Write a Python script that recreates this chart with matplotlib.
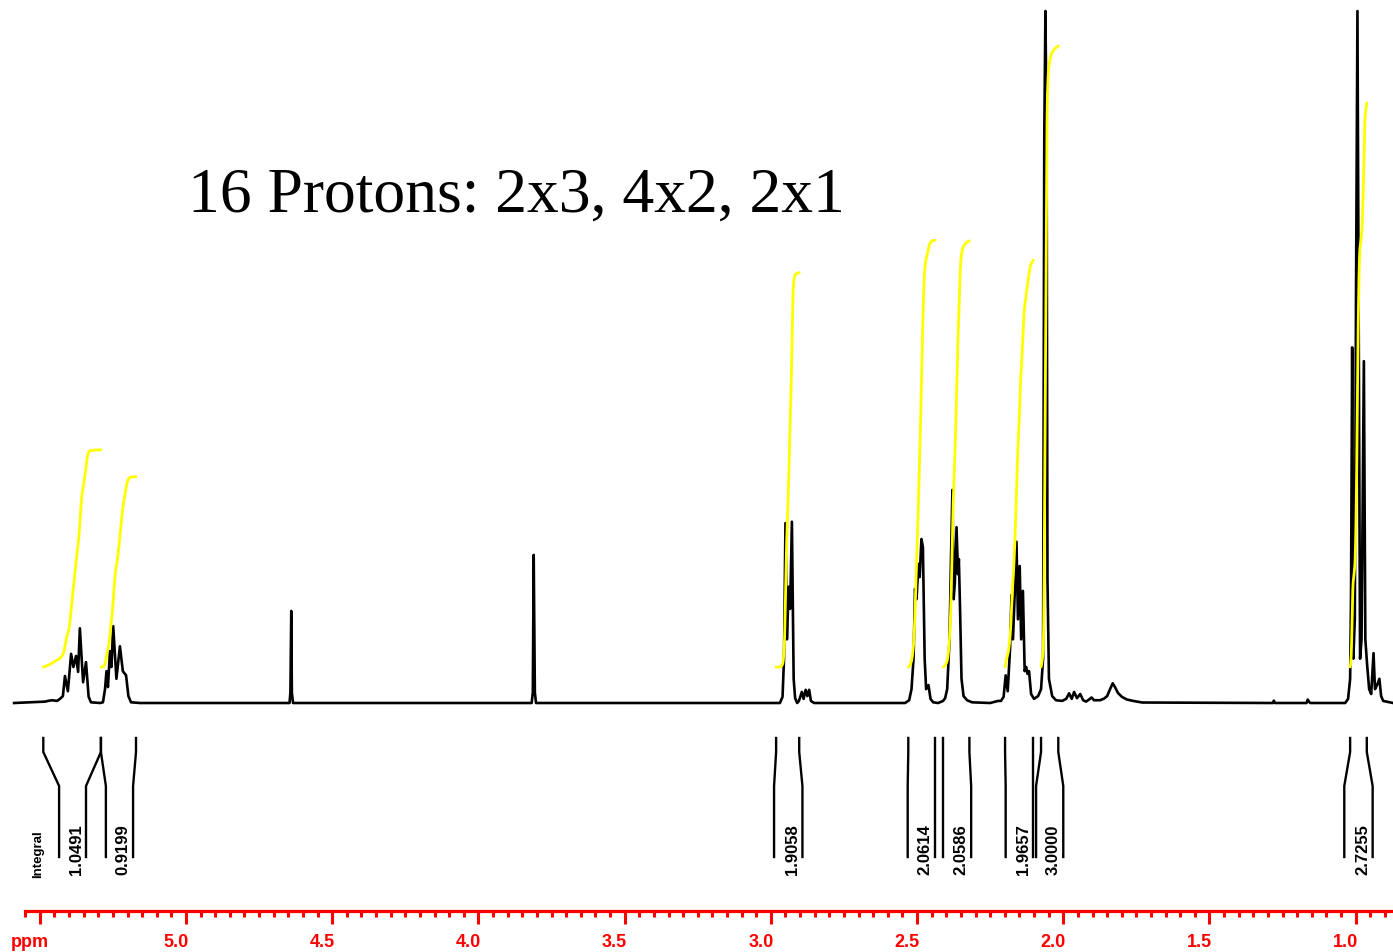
import numpy as np
import matplotlib
matplotlib.use("Agg")
import matplotlib.pyplot as plt
from matplotlib.ticker import FixedLocator
from matplotlib.transforms import ScaledTranslation

# ---------------- data ----------------
# spectrum trace: chemical shift (ppm) and intensity (% of tallest peak)
ppm = [5.588, 5.482, 5.472, 5.458, 5.441, 5.431, 5.421, 5.414, 5.404, 5.393,
       5.385, 5.376, 5.369, 5.363, 5.352, 5.342, 5.333, 5.325, 5.294,
       5.284, 5.277, 5.272, 5.267, 5.260, 5.255, 5.249, 5.238, 5.226, 5.216,
       5.205, 5.197, 5.188, 5.157,
       4.646, 4.643, 4.640, 4.638, 4.634,
       3.818, 3.814, 3.811, 3.807, 3.803,
       2.969, 2.960, 2.955, 2.950, 2.945, 2.939, 2.934, 2.928, 2.922, 2.917,
       2.910, 2.904, 2.894, 2.888, 2.881, 2.875, 2.869, 2.863, 2.852,
       2.541, 2.527, 2.519, 2.512, 2.507, 2.502, 2.495, 2.491, 2.485, 2.480,
       2.474, 2.469, 2.461, 2.454, 2.445, 2.428, 2.411,
       2.404, 2.397, 2.389, 2.384, 2.379, 2.375, 2.371, 2.365, 2.360, 2.357,
       2.353, 2.348, 2.341, 2.329, 2.312, 2.250, 2.223,
       2.213, 2.204, 2.197, 2.190, 2.182, 2.177, 2.172, 2.166, 2.160, 2.155,
       2.149, 2.144, 2.138, 2.132, 2.127, 2.122, 2.117, 2.110, 2.100, 2.086,
       2.076, 2.069, 2.065, 2.061, 2.057, 2.054, 2.049, 2.038, 2.025, 2.004,
       1.990, 1.980, 1.971, 1.963, 1.953, 1.942, 1.932, 1.922, 1.912, 1.903,
       1.895, 1.874, 1.860, 1.850, 1.840, 1.831, 1.823, 1.813, 1.799, 1.782,
       1.761, 1.730,
       1.283, 1.280, 1.276, 1.168, 1.164, 1.160, 1.155,
       1.036, 1.026, 1.019, 1.016, 1.012, 1.008, 1.003, 0.999, 0.994, 0.990,
       0.985, 0.980, 0.972, 0.967, 0.961, 0.954, 0.947, 0.939, 0.934, 0.927,
       0.919, 0.913, 0.906, 0.872]
intensity = [0.0, 0.2, 0.3, 0.4, 0.3, 0.6, 1.0, 3.9, 1.7, 7.1,
             5.2, 6.8, 4.5, 10.8, 3.0, 5.9, 0.9, 0.1, 0.0,
             0.1, 2.0, 4.6, 2.3, 7.5, 5.2, 11.1, 3.5, 8.2, 4.6,
             4.0, 1.0, 0.1, 0.0,
             0.0, 1.5, 13.3, 1.5, 0.0,
             0.0, 1.5, 21.4, 1.5, 0.0,
             0.0, 0.9, 6.4, 26.0, 9.2, 16.8, 13.6, 26.2, 3.5, 0.7,
             0.0, 0.3, 1.6, 0.6, 1.9, 1.0, 1.9, 0.3, 0.0,
             0.0, 0.4, 2.0, 6.4, 16.5, 15.0, 20.1, 18.2, 23.7, 22.5,
             6.4, 2.0, 2.6, 0.6, 0.1, 0.0, 0.3,
             0.7, 2.0, 9.2, 20.8, 30.8, 15.0, 17.2, 25.4, 18.6, 20.8,
             13.6, 3.5, 1.0, 0.4, 0.1, 0.0, 0.3,
             0.3, 0.9, 4.0, 1.7, 7.8, 15.6, 9.2, 15.8, 23.3, 12.1,
             19.8, 9.2, 16.2, 4.6, 5.2, 4.2, 4.6, 1.3, 0.6, 1.0,
             2.0, 6.4, 81.5, 100.0, 81.5, 17.9, 3.5, 1.0, 0.4, 0.3,
             0.6, 1.4, 0.6, 1.6, 0.7, 1.3, 0.4, 0.2, 0.5, 0.8,
             0.4, 0.4, 0.65, 1.0, 2.0, 2.85, 2.3, 1.45, 0.87, 0.5,
             0.3, 0.07,
             0.0, 0.35, 0.0, 0.0, 0.5, 0.2, 0.0,
             0.0, 0.6, 3.5, 15.0, 51.4, 6.4, 12.1, 58.0, 100.0, 58.0,
             6.4, 9.2, 49.4, 9.2, 5.6, 2.0, 1.3, 7.2, 2.0, 2.6,
             3.5, 1.0, 0.3, 0.0]

# integral regions (ppm) and their values
int_start = [5.488, 5.291, 2.982, 2.530, 2.410, 2.199, 2.076, 1.019]
int_end = [5.291, 5.171, 2.903, 2.438, 2.321, 2.102, 2.017, 0.962]
int_values = [1.0491, 0.9199, 1.9058, 2.0614, 2.0586, 1.9657, 3.0000, 2.7255]
int_labels = ["1.0491", "0.9199", "1.9058", "2.0614", "2.0586", "1.9657",
              "3.0000", "2.7255"]

# axis ticks
major_ticks = [5.5, 5.0, 4.5, 4.0, 3.5, 3.0, 2.5, 2.0, 1.5, 1.0]
major_labels = ["ppm", "5.0", "4.5", "4.0", "3.5", "3.0", "2.5", "2.0", "1.5", "1.0"]

title = "16 Protons: 2x3, 4x2, 2x1"

# ---------------- layout (not data) ----------------
W, H = 1393, 953
XL = (5.6361, 0.8724)
# bracket feet positions, shifted to make room for labels
foot_start = [5.434, 5.274, 2.989, 2.532, 2.410, 2.197, 2.093, 1.039]
foot_end = [5.342, 5.181, 2.892, 2.438, 2.315, 2.102, 2.000, 0.942]

fig = plt.figure(figsize=(W / 100, H / 100), dpi=100)
fig.patch.set_facecolor("white")

# spectrum axes: intensity 0 at pixel row 704, 100 at row 12
ax = fig.add_axes([0, 0, 1, 1])
ax.set_xlim(*XL)
unit = 6.92
ax.set_ylim(-(H - 704) / unit, 704 / unit)
ax.axis("off")
ax.plot(ppm, intensity, color="black", lw=1.9, solid_joinstyle="round",
        zorder=2)

# integral curves (cumulative area of the trace inside each region)
p_arr = np.array(ppm)[::-1]
i_arr = np.array(intensity)[::-1]
start_level = (704 - 668) / unit
rise_per_unit = 207 / unit
for s, e, v in zip(int_start, int_end, int_values):
    g = np.linspace(s, e, 300)
    vals = np.interp(g, p_arr, i_arr)
    cum = np.concatenate([[0], np.cumsum(0.5 * (vals[1:] + vals[:-1]) * np.abs(np.diff(g)))])
    cum = cum / cum[-1]
    ax.plot(g, start_level + v * rise_per_unit * cum, color="#FFFF00",
            lw=2.0, zorder=3, solid_capstyle="round")

# integral brackets and labels
ax2 = fig.add_axes([0, 0, 1, 1], facecolor="none")
ax2.set_xlim(*XL)
ax2.set_ylim(H, 0)
ax2.axis("off")
ys = [739, 753, 787, 858]
lab_off = ScaledTranslation(-0.10, 0, fig.dpi_scale_trans)
for s, e, fs, fe, lab in zip(int_start, int_end, foot_start, foot_end, int_labels):
    ax2.plot([s, s, fs, fs], ys, color="black", lw=1.7, solid_joinstyle="miter")
    ax2.plot([e, e, fe, fe], ys, color="black", lw=1.7, solid_joinstyle="miter")
    ax2.text(fe, 875, lab, rotation=90, ha="center", va="bottom",
             fontsize=12, fontweight="bold", family="Liberation Sans",
             transform=ax2.transData + lab_off)
fig.text(38 / W, 1 - 878 / H, "Integral", rotation=90, ha="center",
         va="bottom", fontsize=9.5, fontweight="bold", family="Liberation Sans")

# title
fig.text(188 / W, 1 - 212 / H, title, fontsize=45.8, family="Liberation Serif",
         va="baseline", ha="left")

# ppm ruler
axr = fig.add_axes([0, (H - 912) / H, 1, 0.02], facecolor="none")
axr.set_xlim(*XL)
for sp in ["top", "left", "right"]:
    axr.spines[sp].set_visible(False)
axr.spines["bottom"].set_color("red")
axr.spines["bottom"].set_linewidth(2.3)
axr.spines["bottom"].set_bounds(5.55, XL[1])
axr.set_yticks([])
axr.xaxis.set_major_locator(FixedLocator(major_ticks))
axr.set_xticklabels(major_labels)
axr.xaxis.set_minor_locator(FixedLocator(np.round(np.arange(0.90, 5.5501, 0.05), 2)))
axr.tick_params(axis="x", which="major", direction="out", length=9.4, width=2.2,
                color="red", labelcolor="red", labelsize=13, pad=6.5)
axr.tick_params(axis="x", which="minor", direction="out", length=4.5, width=2.2,
                color="red")
for lab in axr.get_xticklabels():
    lab.set_fontweight("bold")
    lab.set_family("Liberation Sans")
    lab.set_transform(lab.get_transform() + lab_off)

fig.savefig("out.png", dpi=100, facecolor="white")
